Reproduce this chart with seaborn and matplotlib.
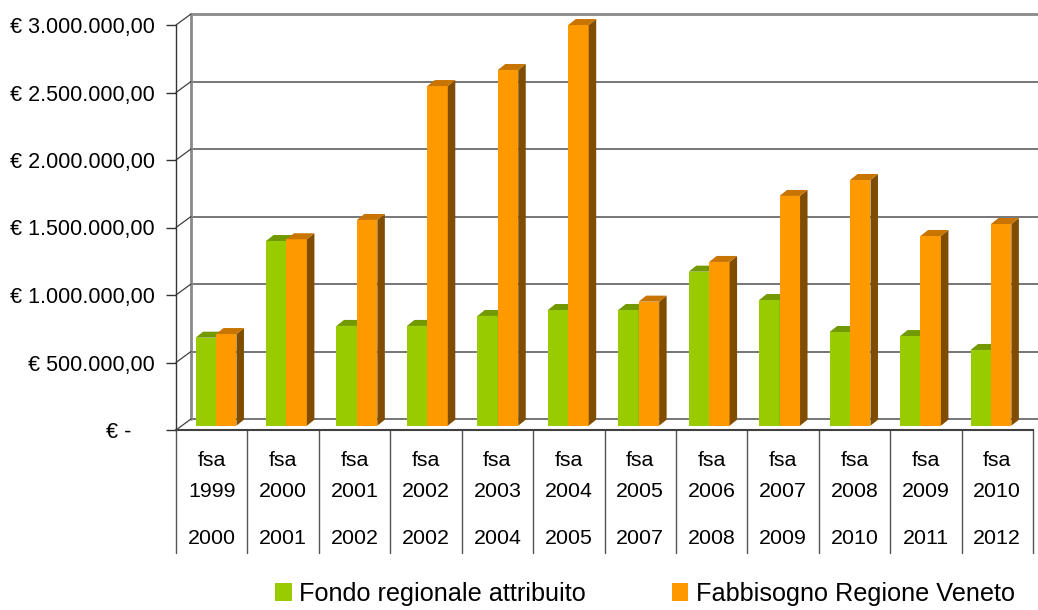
import numpy as np
import pandas as pd
import matplotlib
matplotlib.use("Agg")
import matplotlib.pyplot as plt
import matplotlib.transforms as mtransforms
from matplotlib.patches import Polygon, Patch
import seaborn as sns

# ---------------- data ----------------
fsa_years = ["1999", "2000", "2001", "2002", "2003", "2004",
             "2005", "2006", "2007", "2008", "2009", "2010"]
periods = ["2000", "2001", "2002", "2002", "2004", "2005",
           "2007", "2008", "2009", "2010", "2011", "2012"]
fondo = [652000, 1368000, 739000, 739000, 813000, 857000,
         857000, 1141000, 931000, 694000, 664000, 561000]
fabbisogno = [679000, 1381000, 1524000, 2516000, 2635000, 2968000,
              919000, 1213000, 1702000, 1820000, 1405000, 1494000]
series_names = ["Fondo regionale attribuito", "Fabbisogno Regione Veneto"]
y_ticks = [0, 500000, 1000000, 1500000, 2000000, 2500000, 3000000]

GREEN, GREEN_TOP = "#99CC00", "#739900"
ORANGE, ORANGE_TOP, ORANGE_SIDE = "#FF9900", "#C87400", "#804C00"

# ---------------- style ----------------
sns.set_style("white")
plt.rcParams["font.family"] = ["Liberation Sans", "DejaVu Sans"]
plt.rcParams["text.color"] = "black"

W, H, DPI = 1038, 610, 100
fig = plt.figure(figsize=(W / DPI, H / DPI), dpi=DPI)
fig.patch.set_facecolor("white")
ax = fig.add_axes([176 / W, 180 / H, 857 / W, 405 / H])

cats = [f"fsa {y}" for y in fsa_years]
df = pd.DataFrame({
    "cat": cats * 2,
    "valore": fondo + fabbisogno,
    "serie": [series_names[0]] * len(cats) + [series_names[1]] * len(cats),
})
sns.barplot(data=df, x="cat", y="valore", hue="serie", order=cats,
            hue_order=series_names, palette=[GREEN, ORANGE], width=0.58,
            gap=0, saturation=1, legend=False, errorbar=None, ax=ax)

XA, XB = -0.49, 11.675
ax.set_xlim(XA, XB)
ax.set_ylim(0, 3000000)
ux = 857 / (XB - XA)          # pixels per x unit
uy = 405 / 3000000            # pixels per y unit

# ---------------- bars in 3D plane ----------------
bar_tr = ax.transData + mtransforms.ScaledTranslation(5.5 / DPI, 4.3 / DPI, fig.dpi_scale_trans)
ddx, ddy = 7.5 / ux, 6 / uy
specs = [(GREEN_TOP, GREEN_TOP, 2), (ORANGE_TOP, ORANGE_SIDE, 3)]
for cont, (top_c, side_c, z) in zip(ax.containers, specs):
    for p in cont.patches:
        p.set_transform(bar_tr)
        p.set_zorder(z)
        p.set_clip_on(False)
        p.set_edgecolor("none")
        x0, w, h = p.get_x(), p.get_width(), p.get_height()
        side = Polygon([(x0 + w, 0), (x0 + w + ddx, ddy), (x0 + w + ddx, h + ddy), (x0 + w, h)],
                       closed=True, fc=side_c, ec="none", transform=bar_tr,
                       zorder=z + 0.1, clip_on=False)
        top = Polygon([(x0, h), (x0 + w, h), (x0 + w + ddx, h + ddy), (x0 + ddx, h + ddy)],
                      closed=True, fc=top_c, ec="none", transform=bar_tr,
                      zorder=z + 0.1, clip_on=False)
        ax.add_patch(side)
        ax.add_patch(top)

# ---------------- back wall ----------------
wall_tr = ax.transData + mtransforms.ScaledTranslation(15 / DPI, 11 / DPI, fig.dpi_scale_trans)
for t in y_ticks:
    top_line = t == y_ticks[-1]
    ax.plot([XA, XB + 1], [t, t], transform=wall_tr, clip_on=False,
            color="#8a8a8a" if top_line else "#5f5f5f", lw=2 if top_line else 1.2, zorder=0.5)
    ax.plot([XA, XA + 15 / ux], [t, t + 11 / uy], color="#404040", lw=0.9,
            clip_on=False, zorder=0.6)
ax.plot([XA, XA], [0, y_ticks[-1]], transform=wall_tr, clip_on=False,
        color="#8a8a8a", lw=2, zorder=0.5)

# ---------------- axes cosmetics ----------------
for s in ["top", "right"]:
    ax.spines[s].set_visible(False)
ax.spines["left"].set_color("#333333")
ax.spines["left"].set_linewidth(1.0)
ax.spines["bottom"].set_color("#404040")
ax.spines["bottom"].set_linewidth(1.5)
ax.spines["bottom"].set_zorder(5)
ax.set_xticks([])
ax.set_xlabel("")
ax.set_ylabel("")


def euro(v):
    if v == 0:
        return "€ -    "
    s = f"{v:,.2f}".replace(",", "X").replace(".", ",").replace("X", ".")
    return f"€ {s}"


ax.set_yticks(y_ticks)
ax.set_yticklabels([euro(v) for v in y_ticks])
ax.tick_params(axis="y", left=True, direction="out", length=7.2, width=1,
               color="#333333", pad=8, labelsize=15.5, labelcolor="black")

# ---------------- category table ----------------
xtr = ax.get_xaxis_transform()
seps = np.linspace(XA, XB, len(cats) + 1)
for s in seps:
    ax.plot([s, s], [0, -123 / 405], transform=xtr, clip_on=False,
            color="#555555", lw=1.0)
centers = (seps[:-1] + seps[1:]) / 2
for c, fy, per in zip(centers, fsa_years, periods):
    for txt, off in (("fsa", -36), (fy, -67), (per, -114)):
        ax.annotate(txt, xy=(c, 0), xycoords=xtr, xytext=(0, off),
                    textcoords="offset pixels", ha="center", va="baseline",
                    fontsize=15.4, color="black", annotation_clip=False)

# ---------------- legend ----------------
handles = [Patch(fc=GREEN, ec="none"), Patch(fc=ORANGE, ec="none")]
fig.legend(handles, series_names, loc="center", bbox_to_anchor=(0.6214, 0.026),
           ncol=2, frameon=False, fontsize=18.2, handlelength=0.65,
           handleheight=0.7, handletextpad=0.3, columnspacing=3.4,
           labelcolor="black", borderpad=0.1)

fig.savefig("out.png", dpi=DPI, facecolor="white")
